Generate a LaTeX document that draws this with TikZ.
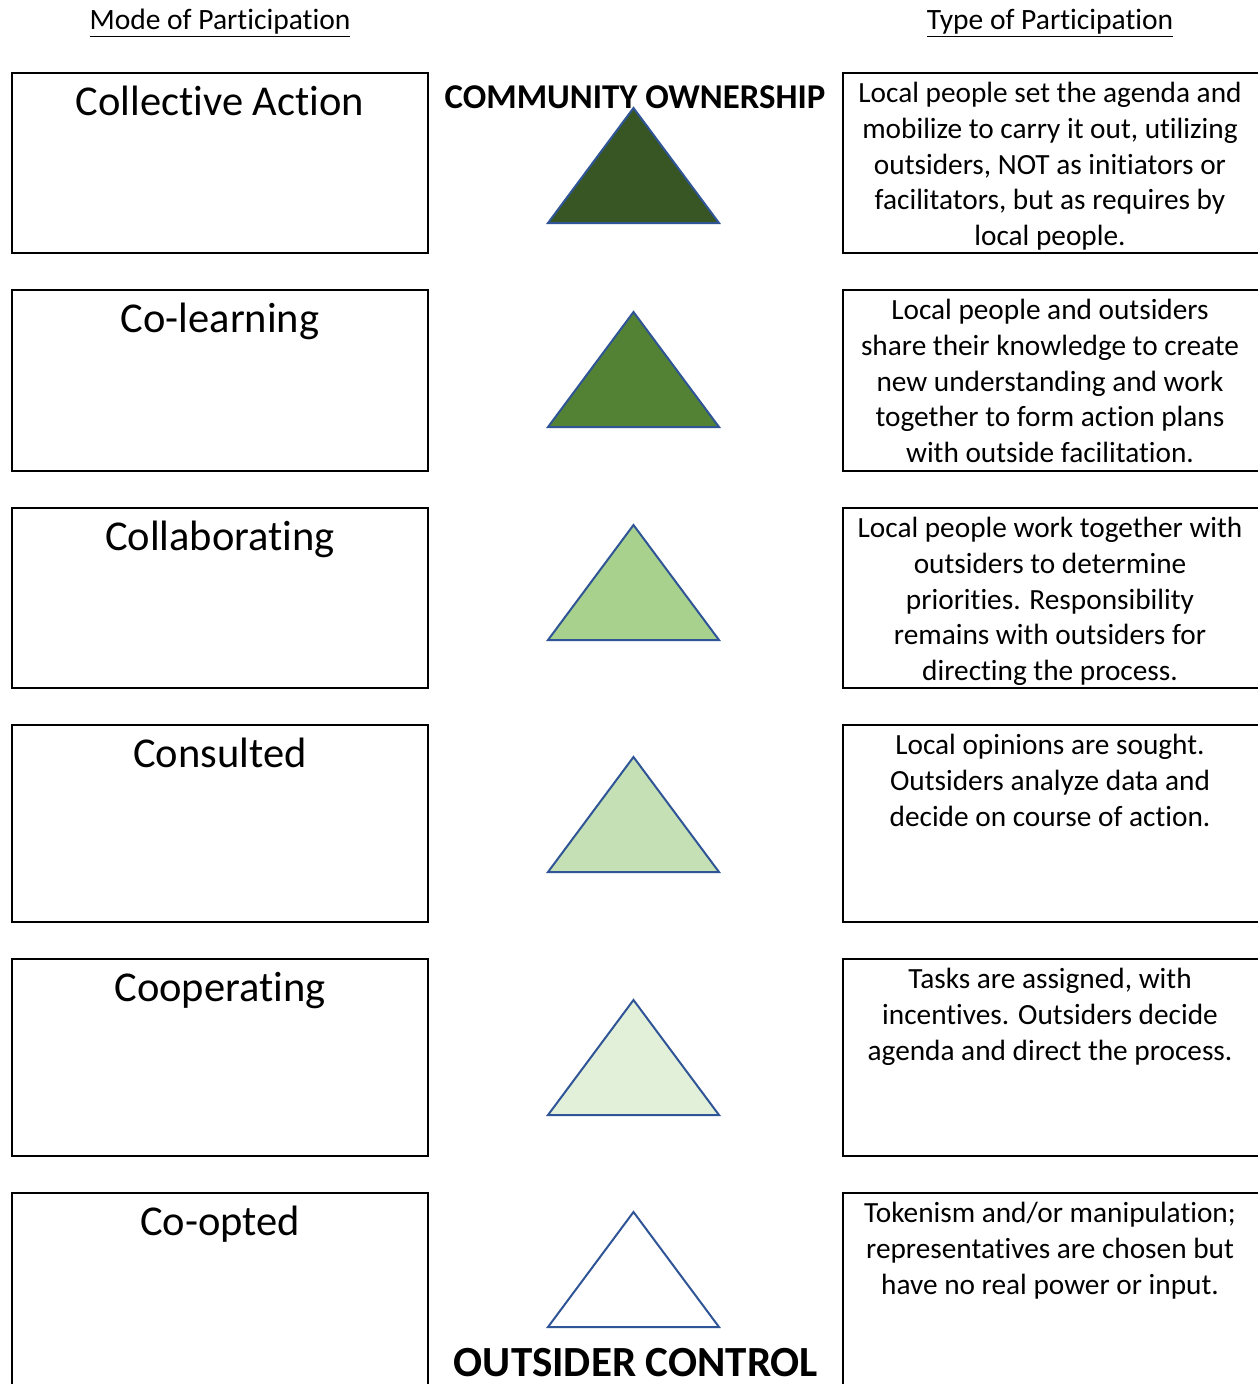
\documentclass[tikz,border=0pt]{standalone}
\usepackage{fontspec}
\setmainfont{Carlito}[Ligatures=NoCommon]
\definecolor{tri1}{HTML}{375623}
\definecolor{tri2}{HTML}{548235}
\definecolor{tri3}{HTML}{A9D18E}
\definecolor{tri4}{HTML}{C5E0B4}
\definecolor{tri5}{HTML}{E2F0D9}
\definecolor{triedge}{HTML}{2F5597}
\tikzset{
  modebox/.style={draw=black, line width=1.3pt},
  modetext/.style={anchor=north, inner sep=0pt, font=\fontsize{42.5}{48}\selectfont},
  desctext/.style={anchor=north, inner sep=0pt, align=center, font=\fontsize{29.3}{35.8}\selectfont},
  headtext/.style={inner sep=0pt, font=\fontsize{29.5}{34}\selectfont},
  tri/.style={draw=triedge, line width=2pt, line join=miter},
}
\begin{document}
\begin{tikzpicture}[x=1pt,y=-1pt]
\useasboundingbox (0,0) rectangle (1258,1384);
\clip (0,0) rectangle (1258,1384);
\fill[white] (0,0) rectangle (1258,1384);

\node[headtext] (h1) at (220,23) {\underline{Mode of Participation}};
\node[headtext] (h2) at (1050,23) {\underline{Type of Participation}};

% rows: top, bottom
\foreach \t/\b/\n in {73/253/1, 290/471/2, 508/688/3, 725/922/4, 959/1156/5, 1193/1420/6}{
  \draw[modebox] (12,\t) rectangle (428,\b);
  \draw[modebox] (843,\t) rectangle (1275,\b);
}

\node[modetext] (m1) at (220,86) {Collective Action};
\node[modetext] (m2) at (220,303) {Co-learning};
\node[modetext] (m3) at (220,521) {Collaborating};
\node[modetext] (m4) at (220,738) {Consulted};
\node[modetext] (m5) at (220,972) {Cooperating};
\node[modetext] (m6) at (220,1206) {Co-opted};

\node[desctext] (d1) at (1050,82) {Local people set the agenda and\\ mobilize to carry it out, utilizing\\ outsiders, NOT as initiators or\\ facilitators, but as requires by\\ local people.};
\node[desctext] (d2) at (1050,299) {Local people and outsiders\\ share their knowledge to create\\ new understanding and work\\ together to form action plans\\ with outside facilitation.};
\node[desctext] (d3) at (1050,517) {Local people work together with\\ outsiders to determine\\ priorities. Responsibility\\ remains with outsiders for\\ directing the process.};
\node[desctext] (d4) at (1050,734) {Local opinions are sought.\\ Outsiders analyze data and\\ decide on course of action.};
\node[desctext] (d5) at (1050,968) {Tasks are assigned, with\\ incentives. Outsiders decide\\ agenda and direct the process.};
\node[desctext] (d6) at (1050,1202) {Tokenism and/or manipulation;\\ representatives are chosen but\\ have no real power or input.};

\foreach \a/\c in {108/tri1, 312/tri2, 525/tri3, 757/tri4, 1000/tri5, 1212/white}{
  \filldraw[tri, fill=\c] (633.5,\a) -- (719,\a+115) -- (548,\a+115) -- cycle;
}

\node[inner sep=0pt, font=\bfseries\fontsize{34.8}{38}\selectfont] (top) at (635,97) {COMMUNITY OWNERSHIP};
\node[inner sep=0pt, font=\bfseries\fontsize{43}{46}\selectfont] (bot) at (636,1363) {OUTSIDER CONTROL};
\end{tikzpicture}
\end{document}
